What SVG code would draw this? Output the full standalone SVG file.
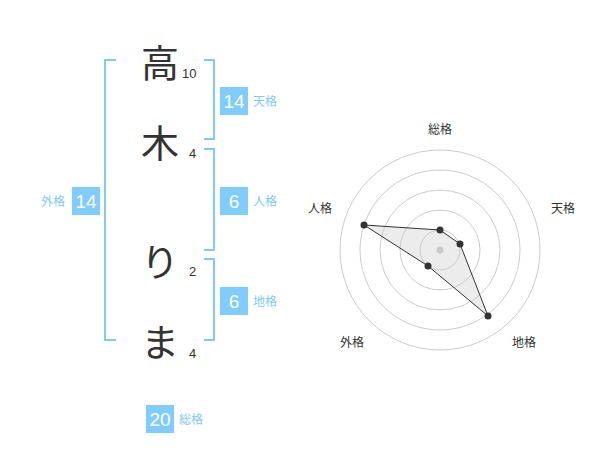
<svg xmlns="http://www.w3.org/2000/svg" width="600" height="470" viewBox="0 0 600 470">
<style>
.br{fill:none;stroke:#80caf8;stroke-width:2}
.bx{fill:#80ccff}
.bn{font-family:"Liberation Sans",sans-serif;font-size:19px;fill:#fff;text-anchor:middle}
.lb{font-family:"Noto Sans CJK JP",sans-serif;font-size:12px;fill:#80caf8}
.ch{font-family:"Noto Sans CJK JP",sans-serif;font-size:38px;fill:#333;text-anchor:middle}
.nm{font-family:"Liberation Sans",sans-serif;font-size:13px;fill:#333}
.rl{font-family:"Noto Sans CJK JP",sans-serif;font-size:12px;fill:#333;text-anchor:middle}
.ring{fill:none;stroke:#ccc;stroke-width:1}
</style>
<rect width="600" height="470" fill="#fff"/>
<g id="connectors">
<path class="br" d="M116,60H105V340H116"/>
<path class="br" d="M204,60H214V139H204"/>
<path class="br" d="M204,149H214V250H204"/>
<path class="br" d="M204,259H214V340H204"/>
</g>
<g id="chars">
<text class="ch" x="160" y="77">高</text>
<text class="ch" x="160" y="157">木</text>
<text class="ch" x="160" y="276">り</text>
<text class="ch" x="160" y="356">ま</text>
<text class="nm" x="182" y="78">10</text>
<text class="nm" x="189" y="158">4</text>
<text class="nm" x="189" y="276">2</text>
<text class="nm" x="189" y="358">4</text>
</g>
<g id="tenkaku"><rect class="bx" x="220" y="87" width="28" height="28"/><text class="bn" x="234" y="108">14</text><text class="lb" x="253" y="106">天格</text></g>
<g id="jinkaku"><rect class="bx" x="220" y="187" width="28" height="28"/><text class="bn" x="234" y="208">6</text><text class="lb" x="253" y="206">人格</text></g>
<g id="chikaku"><rect class="bx" x="220" y="287" width="28" height="28"/><text class="bn" x="234" y="308">6</text><text class="lb" x="253" y="306">地格</text></g>
<g id="gaikaku"><rect class="bx" x="72" y="187" width="28" height="28"/><text class="bn" x="86" y="208">14</text><text class="lb" x="41" y="206">外格</text></g>
<g id="soukaku"><rect class="bx" x="146" y="405" width="28" height="28"/><text class="bn" x="160" y="426">20</text><text class="lb" x="179" y="424">総格</text></g>
<g id="radar">
<circle class="ring" cx="440" cy="250" r="20"/>
<circle class="ring" cx="440" cy="250" r="40"/>
<circle class="ring" cx="440" cy="250" r="60"/>
<circle class="ring" cx="440" cy="250" r="80"/>
<circle class="ring" cx="440" cy="250" r="100"/>
<circle cx="440" cy="250" r="3.5" fill="#ccc"/>
<polygon points="440,230 460,244 488,316 428,266 364,225" fill="rgba(200,200,200,0.35)" stroke="#333" stroke-width="1"/>
<g fill="#333"><circle cx="440" cy="230" r="3.5"/><circle cx="460" cy="244" r="3.5"/><circle cx="488" cy="316" r="3.5"/><circle cx="428" cy="266" r="3.5"/><circle cx="364" cy="225" r="3.5"/></g>
<text class="rl" x="440" y="134">総格</text>
<text class="rl" x="563" y="213">天格</text>
<text class="rl" x="524" y="347">地格</text>
<text class="rl" x="352" y="347">外格</text>
<text class="rl" x="320" y="213">人格</text>
</g>
</svg>
